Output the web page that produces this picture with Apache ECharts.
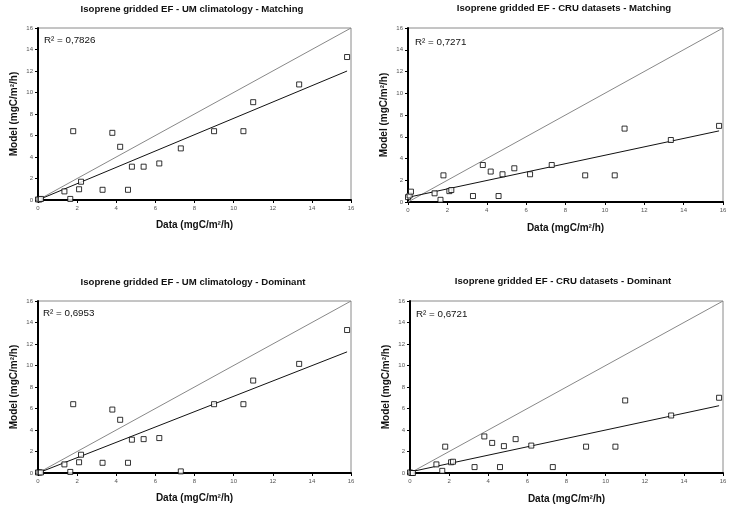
<!DOCTYPE html>
<html>
<head>
<meta charset="utf-8">
<script src="https://cdn.jsdelivr.net/npm/echarts@6/dist/echarts.min.js"></script>
<style>
  html, body { margin: 0; padding: 0; background: #fff; }
  #chart { width: 735px; height: 507px; }
</style>
</head>
<body>
<div id="chart"></div>
<script>
// measured data (x) shared by all four panels
var dataX = [0, 0.08, 0.15, 1.35, 1.65, 1.8, 2.1, 2.2, 3.3, 3.8, 4.2, 4.6, 4.8, 5.4, 6.2, 7.3, 9.0, 10.5, 11.0, 13.35, 15.8];

// model values (y) for each panel
var umMatching  = [0.05, 0.05, 0.1, 0.8, 0.1, 6.4, 1.0, 1.7, 0.95, 6.25, 4.95, 0.95, 3.1, 3.1, 3.4, 4.8, 6.4, 6.4, 9.1, 10.75, 13.3];
var cruMatching = [0.45, 0.6, 0.95, 0.8, 0.2, 2.45, 1.0, 1.1, 0.55, 3.4, 2.8, 0.55, 2.55, 3.1, 2.55, 3.4, 2.45, 2.45, 6.75, 5.7, 7.0];
var umDominant  = [0.05, 0.05, 0.05, 0.8, 0.1, 6.4, 1.0, 1.7, 0.95, 5.9, 4.95, 0.95, 3.1, 3.15, 3.25, 0.15, 6.4, 6.4, 8.6, 10.15, 13.3];
var cruDominant = [0.05, 0, 0, 0.8, 0.2, 2.45, 1.0, 1.05, 0.55, 3.4, 2.8, 0.55, 2.5, 3.15, 2.55, 0.55, 2.45, 2.45, 6.75, 5.35, 7.0];

// linear fit end points [x, y]
var fitUmMatching  = [[0, 0], [15.8, 12.0]];
var fitCruMatching = [[0, 0.43], [15.8, 6.54]];
var fitUmDominant  = [[0, 0], [15.8, 11.27]];
var fitCruDominant = [[0, 0.1], [15.8, 6.26]];

var oneToOne = [[0, 0], [16, 16]];

var titles = [
  'Isoprene gridded EF - UM climatology - Matching',
  'Isoprene gridded EF - CRU datasets - Matching',
  'Isoprene gridded EF - UM climatology - Dominant',
  'Isoprene gridded EF - CRU datasets - Dominant'
];
var r2Labels = ['R² = 0,7826', 'R² = 0,7271', 'R² = 0,6953', 'R² = 0,6721'];

var panels = [
  { y: umMatching,  fit: fitUmMatching,  grid: { left: 38,  top: 28,  width: 313, height: 172 }, title: [192, 9],   r2: [44, 40],  xGap: 20 },
  { y: cruMatching, fit: fitCruMatching, grid: { left: 408, top: 28,  width: 315, height: 174 }, title: [564, 8],   r2: [415, 42], xGap: 21 },
  { y: umDominant,  fit: fitUmDominant,  grid: { left: 38,  top: 301, width: 313, height: 172 }, title: [193, 282], r2: [43, 313], xGap: 20 },
  { y: cruDominant, fit: fitCruDominant, grid: { left: 410, top: 301, width: 313, height: 172 }, title: [563, 281], r2: [416, 314], xGap: 21 }
];

var font = '"Liberation Sans", Arial, sans-serif';
var grids = [], xAxes = [], yAxes = [], series = [], graphics = [];

panels.forEach(function (p, i) {
  grids.push(Object.assign({ show: true, borderColor: '#8a8a8a', borderWidth: 1, backgroundColor: '#fff' }, p.grid));

  var axisCommon = {
    min: 0, max: 16, interval: 2,
    splitLine: { show: false },
    axisLine: { show: true, onZero: false, lineStyle: { color: '#000', width: 2 } },
    axisTick: { show: true, length: 3, lineStyle: { color: '#000' } },
    axisLabel: { fontSize: 6, color: '#555', fontFamily: font, margin: 5 },
    nameLocation: 'middle',
    nameTextStyle: { fontSize: 10, fontWeight: 'bold', color: '#111', fontFamily: font }
  };
  xAxes.push(Object.assign({}, axisCommon, { type: 'value', gridIndex: i, name: 'Data (mgC/m²/h)', nameGap: p.xGap }));
  yAxes.push(Object.assign({}, axisCommon, { type: 'value', gridIndex: i, name: 'Model (mgC/m²/h)', nameGap: 19 }));

  var pts = dataX.map(function (x, k) { return [x, p.y[k]]; });

  series.push({
    type: 'line', xAxisIndex: i, yAxisIndex: i, data: oneToOne,
    symbol: 'none', silent: true, lineStyle: { color: '#888', width: 1 }, z: 2
  });
  series.push({
    type: 'line', xAxisIndex: i, yAxisIndex: i, data: p.fit,
    symbol: 'none', silent: true, lineStyle: { color: '#111', width: 1 }, z: 3
  });
  series.push({
    type: 'scatter', xAxisIndex: i, yAxisIndex: i, data: pts,
    symbol: 'rect', symbolSize: 5,
    itemStyle: { color: '#fff', borderColor: '#000', borderWidth: 1 }, z: 4
  });

  graphics.push({
    type: 'text', x: p.title[0], y: p.title[1],
    style: { text: titles[i], font: 'bold 9.6px ' + font, fill: '#111', align: 'center', verticalAlign: 'middle' }
  });
  graphics.push({
    type: 'text', x: p.r2[0], y: p.r2[1], z: 10,
    style: { text: r2Labels[i], font: '9.8px ' + font, fill: '#111', align: 'left', verticalAlign: 'middle' }
  });
});

var myChart = echarts.init(document.getElementById('chart'));
myChart.setOption({
  animation: false,
  backgroundColor: '#fff',
  grid: grids,
  xAxis: xAxes,
  yAxis: yAxes,
  series: series,
  graphic: graphics
});
</script>
</body>
</html>
